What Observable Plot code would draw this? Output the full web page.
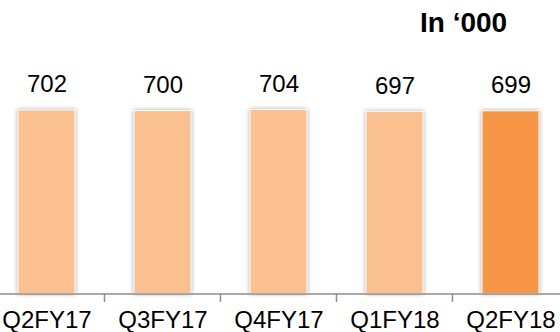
<!DOCTYPE html>
<html><head><meta charset="utf-8">
<script src="https://cdn.jsdelivr.net/npm/d3@7"></script>
<script src="https://cdn.jsdelivr.net/npm/@observablehq/plot@0.6"></script>
<style>
body{margin:0;background:#fff;}
#wrap{position:relative;width:560px;height:332px;overflow:hidden;font-family:"Liberation Sans",Arial,sans-serif;}
#unit{position:absolute;left:420px;top:7px;font-size:28px;font-weight:bold;color:#000;white-space:nowrap;}
.bars rect{filter:drop-shadow(0 0 2px rgba(0,0,0,0.35));stroke:#fff;stroke-width:1;}
</style></head>
<body><div id="wrap"><div id="unit">In ‘000</div></div>
<script>
const categories = ["Q2FY17","Q3FY17","Q4FY17","Q1FY18","Q2FY18"];
const values = [702, 700, 704, 697, 699];
const barColors = ["#FAC090","#FAC090","#FAC090","#FAC090","#F79646"];

const data = categories.map((c,i)=>({cat:c, v:values[i], col:barColors[i]}));

const plot = Plot.plot({
  width:560, height:332,
  marginTop:0, marginBottom:38.5, marginLeft:0, marginRight:0,
  style:{fontFamily:"'Liberation Sans', Arial, sans-serif", background:"transparent", overflow:"visible"},
  x:{domain:categories, range:[-13,570], paddingInner:0.51, paddingOuter:0.255},
  y:{domain:[0,700], range:[293.5,110.5], axis:null},
  marks:[
    Plot.barY(data,{x:"cat", y:"v", fill:"col", className:"bars"}),
    Plot.text(data,{x:"cat", y:"v", text:d=>String(d.v), dy:-18, lineAnchor:"bottom", fontSize:24, fill:"#000"}),
    Plot.ruleY([0],{stroke:"#8c8c8c", strokeWidth:1.5}),
    Plot.axisX({tickSize:0, tickPadding:17, fontSize:24, fill:"#000", label:null})
  ]
});
document.getElementById("wrap").appendChild(plot);

// separator ticks at the boundaries between category bands
const sx = plot.scale("x");
const svg = d3.select(plot);
const y0 = plot.scale("y").apply(0);
svg.append("g").attr("stroke","#8c8c8c").attr("stroke-width",1.5)
  .selectAll("line").data(categories.slice(0,-1)).join("line")
  .attr("x1",d=>sx.apply(d)+sx.bandwidth+ (sx.step-sx.bandwidth)/2)
  .attr("x2",d=>sx.apply(d)+sx.bandwidth+ (sx.step-sx.bandwidth)/2)
  .attr("y1",y0).attr("y2",y0+8.5);
</script></body></html>
